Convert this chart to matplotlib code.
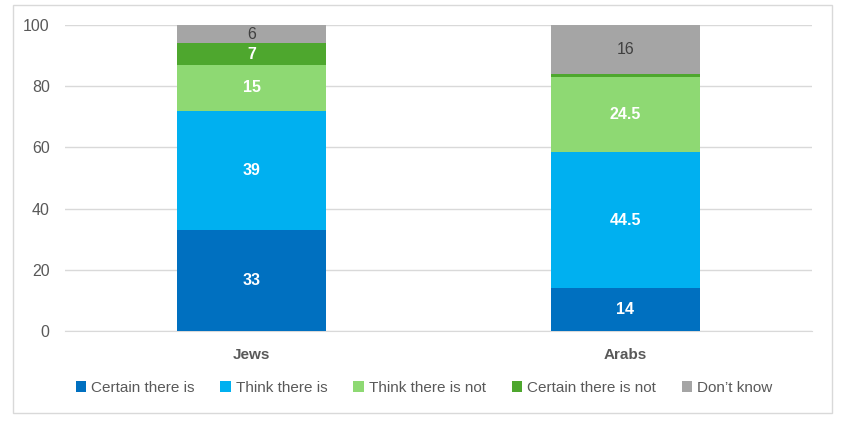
import matplotlib.pyplot as plt
from matplotlib.patches import Rectangle
import numpy as np

plt.rcParams.update(
    {
        "font.family": ["Liberation Sans", "DejaVu Sans"],
        "font.size": 11,
    }
)

# data
groups = ["Jews", "Arabs"]
series = ["Certain there is", "Think there is", "Think there is not",
          "Certain there is not", "Don\u2019t know"]
certain_is = [33, 14]
think_is = [39, 44.5]
think_not = [15, 24.5]
certain_not = [7, 1]
dont_know = [6, 16]

values = [certain_is, think_is, think_not, certain_not, dont_know]
colors = ["#0070C0", "#00B0F0", "#8ED973", "#4EA72E", "#A5A5A5"]

fig = plt.figure(figsize=(8.48, 4.29), dpi=100)
ax = fig.add_axes([65 / 848, 1 - 331 / 429, 747 / 848, 306 / 429])

# outer border
fig.patches.append(Rectangle((13 / 848, 1 - 413 / 429), 819 / 848, 408 / 429,
                             transform=fig.transFigure, fill=False,
                             edgecolor="#D9D9D9", linewidth=1.0))

x = np.arange(len(groups))
bottom = np.zeros(len(groups))
for name, vals, col in zip(series, values, colors):
    vals = np.array(vals, dtype=float)
    ax.bar(x, vals, 0.4, bottom=bottom, color=col, label=name, zorder=3)
    for xi, b, v in zip(x, bottom, vals):
        if v < 3:
            continue
        txt = f"{v:g}"
        if name == "Don\u2019t know":
            ax.text(xi, b + v / 2, txt, ha="center", va="center",
                    color="#404040", fontsize=11.5, zorder=4)
        else:
            ax.text(xi, b + v / 2, txt, ha="center", va="center",
                    color="white", fontsize=11.5, fontweight="bold", zorder=4)
    bottom += vals

ax.set_xlim(-0.5, 1.5)
ax.set_ylim(0, 100)
ax.set_yticks(np.arange(0, 101, 20))
ax.yaxis.grid(True, color="#D9D9D9", linewidth=1.0, zorder=0)
ax.set_xticks(x)
ax.set_xticklabels(groups, fontweight="bold", color="#595959", fontsize=11)
ax.tick_params(axis="x", length=0, pad=12)
ax.tick_params(axis="y", length=0, pad=11, labelcolor="#595959", labelsize=11.5)
for s in ["top", "right", "left"]:
    ax.spines[s].set_visible(False)
ax.spines["bottom"].set_color("#D9D9D9")

fig.legend(loc="center", bbox_to_anchor=(0.5, 1 - 388 / 429), ncol=5,
           frameon=False, handlelength=0.7, handleheight=0.7,
           handletextpad=0.3, columnspacing=1.7, labelcolor="#595959",
           fontsize=11)

plt.savefig("out.png", dpi=100)
plt.close()
